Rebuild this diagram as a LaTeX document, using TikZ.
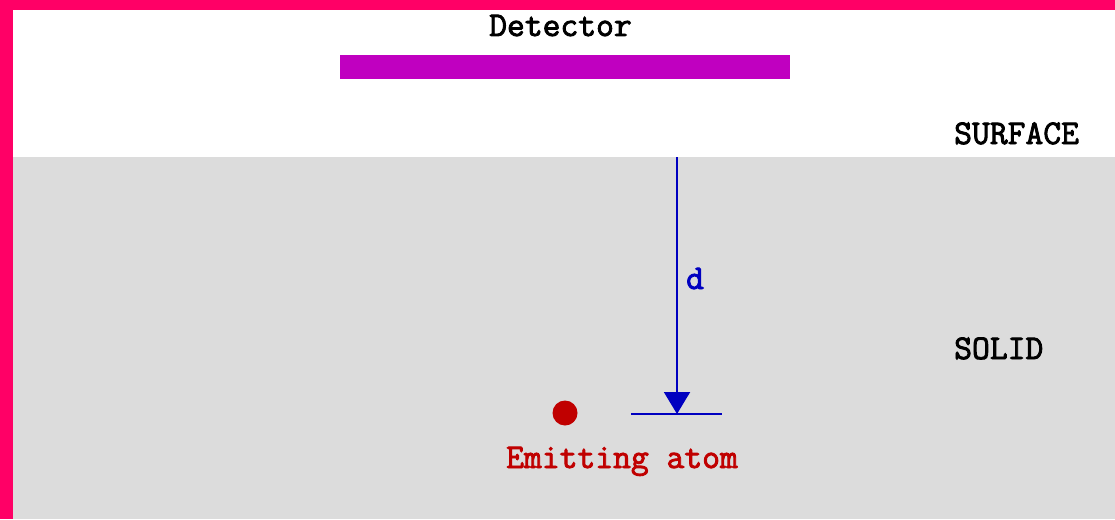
\documentclass[tikz,border=0pt]{standalone}
\usepackage{fontspec}
\setmonofont{Latin Modern Mono}[AutoFakeBold=2.5]
\usetikzlibrary{arrows.meta}
\definecolor{frame}{HTML}{FF0066}
\definecolor{solidgray}{HTML}{DCDCDC}
\definecolor{detcol}{HTML}{C000C0}
\definecolor{dblue}{HTML}{0000C0}
\definecolor{atomred}{HTML}{C00000}
\tikzset{
  lbl/.style={inner sep=0pt, anchor=base west, font=\ttfamily\bfseries\fontsize{34.6}{36}\selectfont},
  depth/.style={draw=dblue, line width=2pt},
}
\begin{document}
\begin{tikzpicture}[x=1pt,y=-1pt]
\useasboundingbox (0,0) rectangle (1115,519);
% frame, vacuum and solid regions
\fill[frame] (0,0) rectangle (1115,519);
\fill[white] (13,10) rectangle (1115,157);
\fill[solidgray] (13,157) rectangle (1115,519);
% detector plate
\fill[detcol] (340,55) rectangle (790,79);
\node[lbl] (detlabel) at (489,36) {Detector};
\node[lbl] (surface) at (954,144) {SURFACE};
\node[lbl] (solidlbl) at (954,359) {SOLID};
% depth arrow
\coordinate (dtop) at (677,157);
\coordinate (dtip) at (677,414);
\coordinate (bl) at (631,413.5);
\coordinate (br) at (722,413.5);
\draw[depth] (bl) -- (br);
\draw[depth, -{Triangle[width=26pt,length=22pt]}] (dtop) -- (dtip);
\node[lbl, text=dblue] (dlabel) at (686,289) {d};
% emitting atom
\fill[atomred] (565,413) circle (12.5) node (atom) {};
\node[lbl, text=atomred] (atomlabel) at (506,468) {Emitting atom};
\end{tikzpicture}
\end{document}
